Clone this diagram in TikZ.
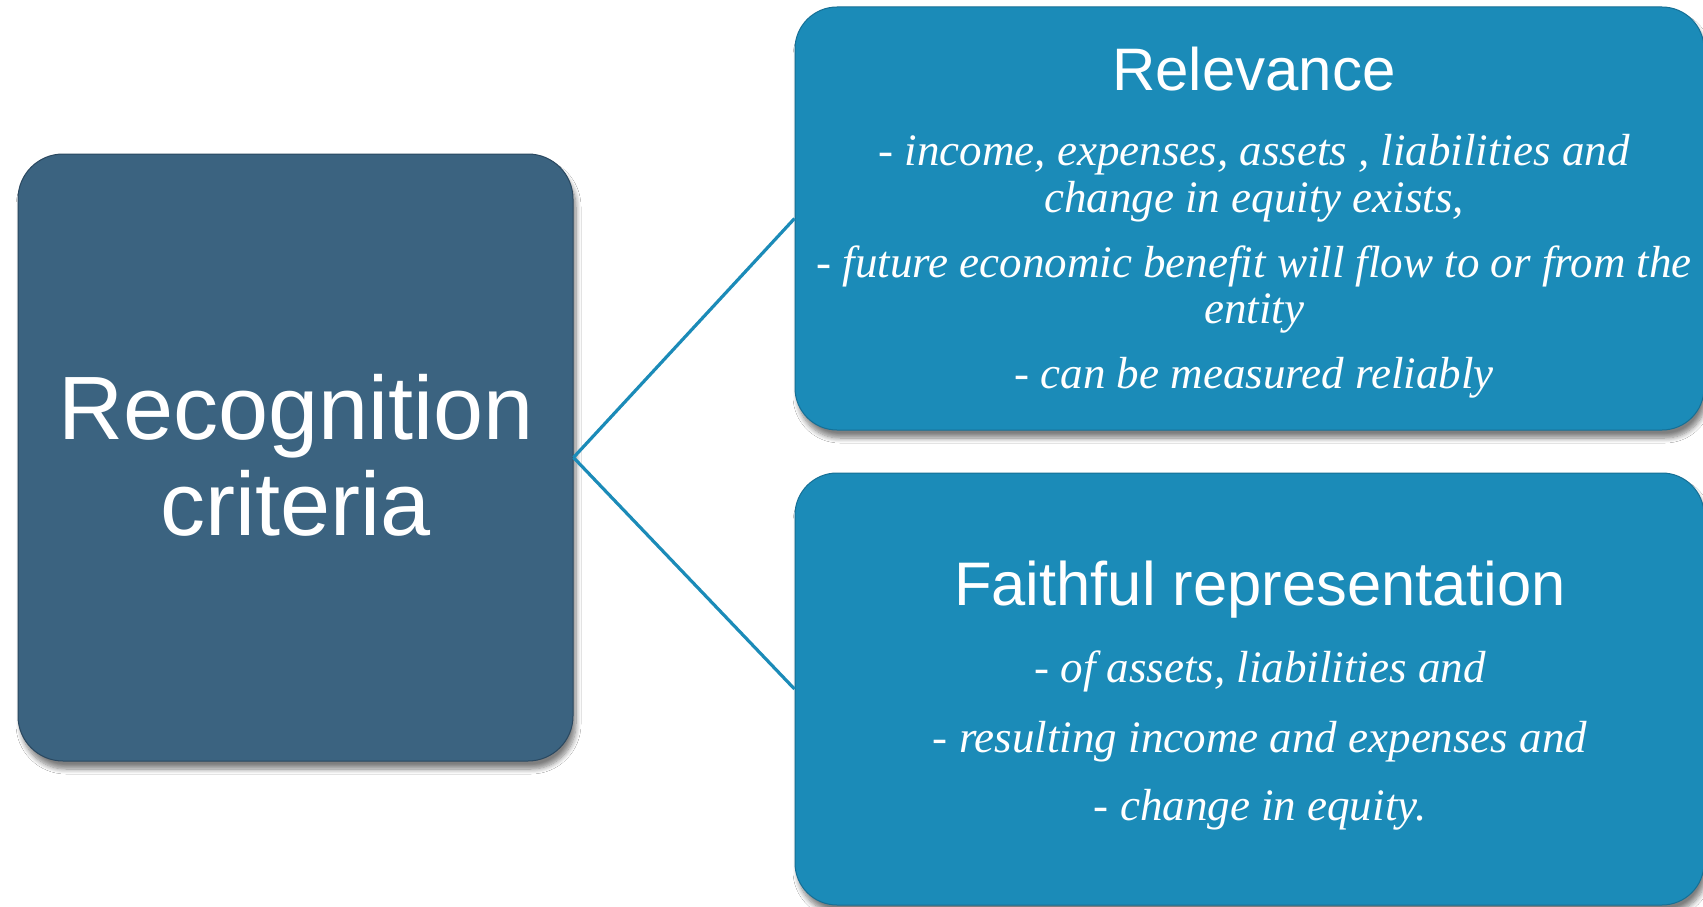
\documentclass[tikz,border=0pt]{standalone}
\usepackage{fontspec}
\setmainfont{Liberation Serif}
\newfontfamily\headfont{Liberation Sans}
\usetikzlibrary{shadows.blur}
\definecolor{darkbox}{RGB}{59,99,128}
\definecolor{bluebox}{RGB}{27,139,184}
\definecolor{bluerim}{RGB}{22,112,150}
\definecolor{darkrim}{RGB}{42,72,96}
\tikzset{
  card/.style={inner sep=0pt, line width=1pt,
    blur shadow={shadow xshift=3pt, shadow yshift=-8pt, shadow blur steps=8, shadow opacity=50, shadow blur radius=5pt}},
  leftcard/.style={card, rounded corners=45pt, fill=darkbox, draw=darkrim, minimum width=555pt, minimum height=607pt},
  rightcard/.style={card, rounded corners=42pt, fill=bluebox, draw=bluerim, minimum width=909pt},
  bigtext/.style={text=white, inner sep=0pt, font=\headfont\fontsize{90}{100}\selectfont, anchor=base},
  headtext/.style={text=white, inner sep=0pt, font=\headfont\fontsize{60}{66}\selectfont, anchor=base},
  bodytext/.style={text=white, inner sep=0pt, font=\itshape\fontsize{45}{49}\selectfont, anchor=base},
  link/.style={draw=bluebox, line width=3.2pt}
}
\begin{document}
\begin{tikzpicture}[x=1pt, y=-1pt]
\useasboundingbox (0,0) rectangle (1703,907);
\fill[white] (0,0) rectangle (1703,907);

% boxes
\node[leftcard] (rc) at (295.5,457.5) {};
\node[rightcard, minimum height=423pt] (rel) at (1249.5,218.5) {};
\node[rightcard, minimum height=432pt] (fr) at (1249.5,689) {};

% connectors
\draw[link] (rc.east) -- (rel.west);
\draw[link] (rc.east) -- (fr.west);

% left text
\node[bigtext] (rc1) at (296,439) {Recognition};
\node[bigtext] (rc2) at (296,535) {criteria};

% top box text
\node[headtext] (relh) at (1254,91) {Relevance};
\node[bodytext] (rel1) at (1254,165) {- income, expenses, assets , liabilities and};
\node[bodytext] (rel2) at (1254,212) {change in equity exists,};
\node[bodytext] (rel3) at (1254,277) {- future economic benefit will flow to or from the};
\node[bodytext] (rel4) at (1254,323) {entity};
\node[bodytext] (rel5) at (1254,388) {- can be measured reliably};

% bottom box text
\node[headtext, font=\headfont\fontsize{61.5}{66}\selectfont] (frh) at (1260,605) {Faithful representation};
\node[bodytext] (fr1) at (1260,682) {- of assets, liabilities and};
\node[bodytext] (fr2) at (1260,752) {- resulting income and expenses and};
\node[bodytext] (fr3) at (1260,820) {- change in equity.};
\end{tikzpicture}
\end{document}
